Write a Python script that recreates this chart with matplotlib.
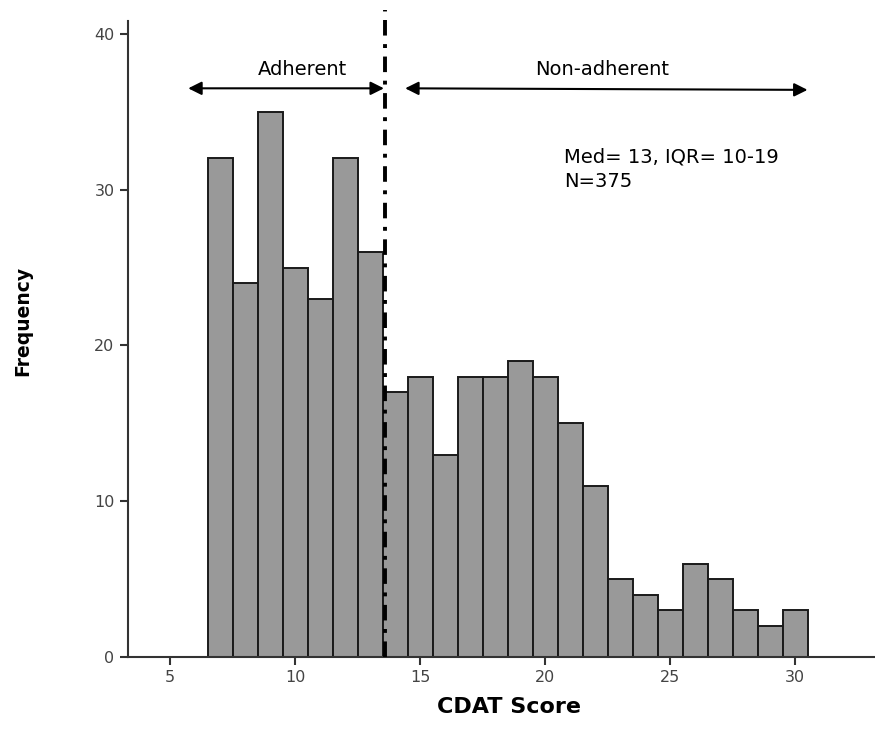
import matplotlib
matplotlib.use("Agg")
import matplotlib.pyplot as plt

scores = list(range(7, 31))
freqs = [32, 24, 35, 25, 23, 32, 26, 17, 18, 13, 18, 18, 19, 18, 15, 11, 5, 4, 3, 6, 5, 3, 2, 3]
xticks = [5, 10, 15, 20, 25, 30]
yticks = [0, 10, 20, 30, 40]
cutoff = 13.6

plt.rcParams['font.family'] = ['DejaVu Sans']

fig = plt.figure(figsize=(8.75, 7.35), dpi=100)
ax = fig.add_axes([0.146, 0.106, 0.854, 0.865])

ax.bar(scores, freqs, width=1.0, color='#999999', edgecolor='#1a1a1a', linewidth=1.4, zorder=2)

ax.set_xlim(3.3, 33.2)
ax.set_ylim(0, 40.8)
ax.set_xticks(xticks)
ax.set_yticks(yticks)
for s in ['top', 'right']:
    ax.spines[s].set_visible(False)
for s in ['left', 'bottom']:
    ax.spines[s].set_color('#333333')
    ax.spines[s].set_linewidth(1.5)
ax.tick_params(direction='out', length=6, width=1.5, color='#333333', labelsize=11.5, labelcolor='#444444')

ax.set_xlabel('CDAT Score', fontsize=16, fontweight='bold')
ax.xaxis.set_label_coords(0.51, -0.063)
ax.set_ylabel('Frequency', fontsize=13.5, fontweight='bold')
ax.yaxis.set_label_coords(-0.128, 0.528)

ax.plot([cutoff, cutoff], [0, 41.5], color='black', linewidth=2.8, dashes=(4, 2.2, 1, 2.2), clip_on=False, zorder=3)

ax.annotate('', xy=(5.72, 36.5), xytext=(13.55, 36.5),
            arrowprops=dict(arrowstyle='<|-|>', color='black', lw=1.5, mutation_scale=20, shrinkA=0, shrinkB=0))
ax.annotate('', xy=(14.4, 36.5), xytext=(30.5, 36.4),
            arrowprops=dict(arrowstyle='<|-|>', color='black', lw=1.5, mutation_scale=20, shrinkA=0, shrinkB=0))
ax.text(10.3, 37.7, 'Adherent', ha='center', va='center', fontsize=14)
ax.text(22.3, 37.7, 'Non-adherent', ha='center', va='center', fontsize=14)
ax.text(20.75, 32.1, 'Med= 13, IQR= 10-19', ha='left', va='center', fontsize=14)
ax.text(20.75, 30.5, 'N=375', ha='left', va='center', fontsize=14)

fig.savefig('out.png', dpi=100)
